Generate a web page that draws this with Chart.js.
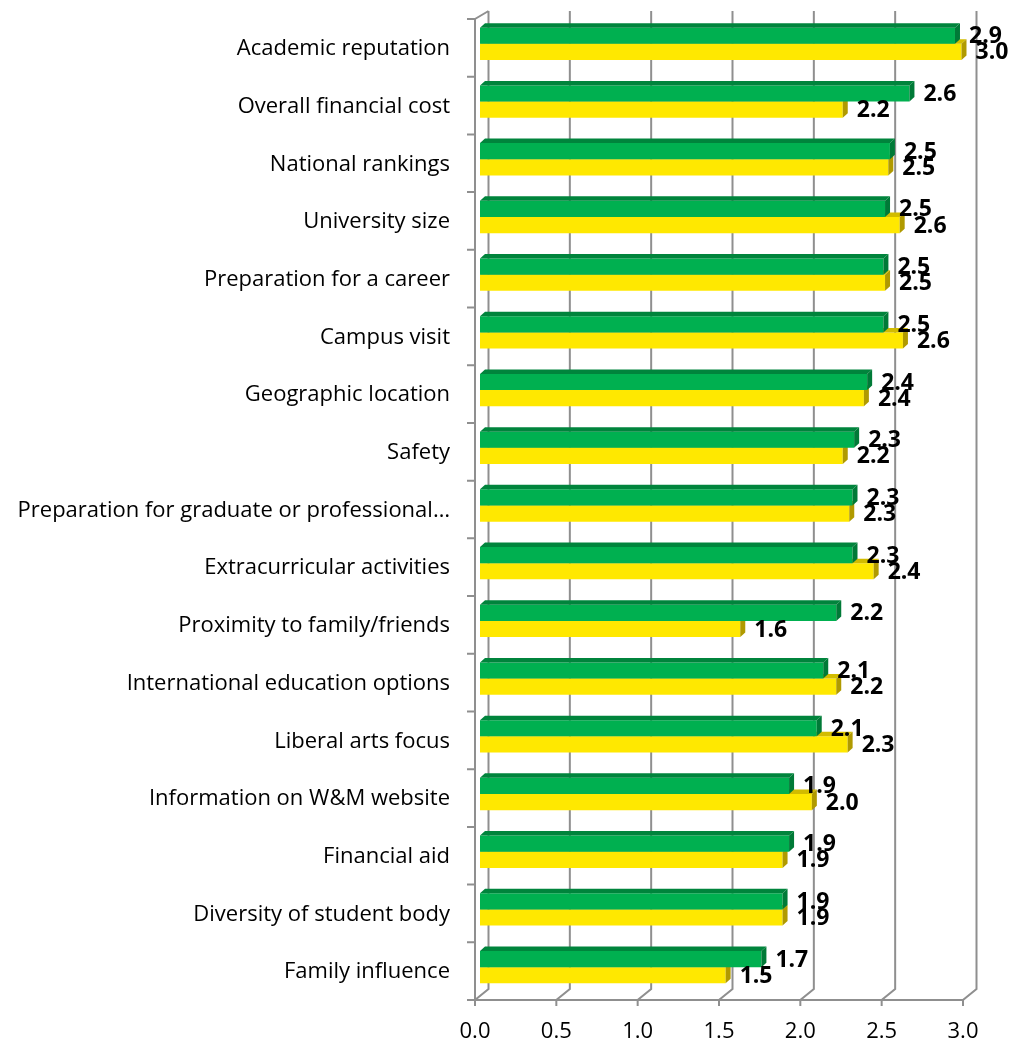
<!DOCTYPE html>
<html>
<head>
<meta charset="utf-8">
<script src="https://cdn.jsdelivr.net/npm/chart.js@4"></script>
<style>
  body { margin: 0; background: #fff; }
  #wrap { width: 1012px; height: 1046px; position: relative; }
</style>
</head>
<body>
<div id="wrap"><canvas id="myChart"></canvas></div>
<script>
const categories = [
  'Academic reputation',
  'Overall financial cost',
  'National rankings',
  'University size',
  'Preparation for a career',
  'Campus visit',
  'Geographic location',
  'Safety',
  'Preparation for graduate or professional\u2026',
  'Extracurricular activities',
  'Proximity to family/friends',
  'International education options',
  'Liberal arts focus',
  'Information on W&M website',
  'Financial aid',
  'Diversity of student body',
  'Family influence'
];
const greenValues = [2.92, 2.64, 2.52, 2.49, 2.48, 2.48, 2.38, 2.30, 2.29, 2.29, 2.19, 2.11, 2.07, 1.90, 1.90, 1.86, 1.73];
const yellowValues = [2.96, 2.23, 2.51, 2.58, 2.49, 2.60, 2.36, 2.23, 2.27, 2.42, 1.60, 2.19, 2.26, 2.04, 1.86, 1.86, 1.51];
const xTicks = [0, 0.5, 1, 1.5, 2, 2.5, 3];

// 3D-Flaechen: Oberseite und rechte Seite jedes Balkens
const faceColors = [
  { top: '#00843C', side: '#007A37' },
  { top: '#D2BC00', side: '#B09A00' }
];
const bar3d = {
  id: 'bar3d',
  afterDatasetDraw(chart, args) {
    const ctx = chart.ctx;
    const dx = 5, dy = 4.5;
    const col = faceColors[args.index];
    ctx.save();
    args.meta.data.forEach(el => {
      const top = el.y - el.height / 2;
      const bottom = el.y + el.height / 2;
      ctx.fillStyle = col.top;
      ctx.beginPath();
      ctx.moveTo(el.base, top);
      ctx.lineTo(el.base + dx, top - dy);
      ctx.lineTo(el.x + dx, top - dy);
      ctx.lineTo(el.x, top);
      ctx.closePath();
      ctx.fill();
      ctx.fillStyle = col.side;
      ctx.beginPath();
      ctx.moveTo(el.x, top);
      ctx.lineTo(el.x + dx, top - dy);
      ctx.lineTo(el.x + dx, bottom - dy);
      ctx.lineTo(el.x, bottom);
      ctx.closePath();
      ctx.fill();
    });
    ctx.restore();
  },
  afterDatasetsDraw(chart) {
    const ctx = chart.ctx;
    ctx.save();
    ctx.fillStyle = '#000';
    ctx.font = 'bold 23px "Open Sans"';
    ctx.textAlign = 'left';
    ctx.textBaseline = 'middle';
    [0, 1].forEach(i => {
      const meta = chart.getDatasetMeta(i);
      meta.data.forEach((el, j) => {
        const v = chart.data.datasets[i].data[j];
        ctx.fillText(v.toFixed(1), el.x + 14, el.y + 1);
      });
    });
    ctx.restore();
  }
};

// Rahmen: Rueckwand, Seitenwand und Boden
const frame3d = {
  id: 'frame3d',
  beforeDatasetsDraw(chart) {
    const { ctx, chartArea, scales: { x, y } } = chart;
    const dx = 13.5, dy = 11;
    const frontTop = chartArea.top + 4;
    const frontBottom = chartArea.bottom + 4;
    const backTop = frontTop - 8;
    const step = (chartArea.bottom - chartArea.top) / categories.length;
    ctx.save();
    ctx.strokeStyle = '#8f8f8f';
    ctx.lineWidth = 2;
    ctx.beginPath();
    xTicks.forEach(v => {
      const fx = x.getPixelForValue(v) - 5;
      ctx.moveTo(fx + dx, backTop);
      ctx.lineTo(fx + dx, frontBottom - dy);
      ctx.lineTo(fx, frontBottom);
      ctx.lineTo(fx, frontBottom + 6);
    });
    const lx = x.getPixelForValue(0) - 5;
    const rx = x.getPixelForValue(3) - 5;
    ctx.moveTo(lx + dx, backTop);
    ctx.lineTo(lx, frontTop);
    ctx.lineTo(lx, frontBottom);
    ctx.lineTo(rx, frontBottom);
    for (let c = 0; c <= categories.length; c++) {
      const yy = frontTop + c * step;
      ctx.moveTo(lx - 8, yy);
      ctx.lineTo(lx, yy);
    }
    ctx.stroke();
    ctx.restore();
  }
};

const ctx = document.getElementById('myChart');
new Chart(ctx, {
  type: 'bar',
  data: {
    labels: categories,
    datasets: [{
      label: 'Green',
      data: greenValues,
      backgroundColor: '#00B050',
      borderWidth: 0
    }, {
      label: 'Yellow',
      data: yellowValues,
      backgroundColor: '#FFE800',
      borderWidth: 0
    }]
  },
  options: {
    indexAxis: 'y',
    responsive: true,
    maintainAspectRatio: false,
    animation: false,
    datasets: { bar: { categoryPercentage: 0.56, barPercentage: 1.0 } },
    layout: { padding: { top: 15, right: 44, left: 0, bottom: 0 } },
    plugins: {
      legend: { display: false },
      tooltip: { enabled: false }
    },
    scales: {
      x: {
        min: 0,
        max: 3,
        grid: { display: false, drawTicks: false },
        border: { display: false },
        afterFit: (scale) => {
          scale.height = 50;
          scale.paddingLeft = 0;
          scale.paddingRight = 0;
        },
        afterBuildTicks: (scale) => { scale.ticks = xTicks.map(v => ({ value: v })); },
        ticks: {
          labelOffset: -5,
          padding: 23,
          color: '#000',
          font: { family: 'Open Sans', size: 22 },
          callback: (v) => Number(v).toFixed(1)
        }
      },
      y: {
        grid: { display: false, drawTicks: false },
        border: { display: false },
        afterFit: (scale) => {
          scale.width = 480;
          scale.paddingTop = 0;
          scale.paddingBottom = 0;
        },
        ticks: {
          padding: 30,
          labelOffset: 5,
          color: '#000',
          autoSkip: false,
          font: { family: 'Open Sans', size: 22 }
        }
      }
    }
  },
  plugins: [frame3d, bar3d]
});
</script>
</body>
</html>
